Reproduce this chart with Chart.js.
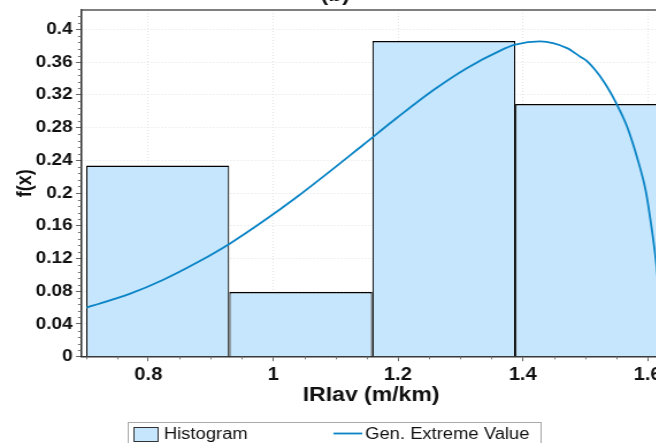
<!DOCTYPE html>
<html>
<head>
<meta charset="utf-8">
<script src="https://cdn.jsdelivr.net/npm/chart.js@4.4.1/dist/chart.umd.min.js"></script>
<style>
  html, body { margin: 0; padding: 0; background: #fff; width: 656px; height: 443px; overflow: hidden; }
  #wrap { position: relative; width: 656px; height: 443px; overflow: hidden; }
  /* the source figure is a bit wider than the window and stretched sideways */
  #myChart { position: absolute; left: 0; top: -20px; transform: scaleX(1.15); transform-origin: 0 0; }
</style>
</head>
<body>
<div id="wrap"><canvas id="myChart" width="583" height="463"></canvas></div>
<script>
// histogram bins (IRIav, m/km) and densities
const binCenters = [0.8151, 1.0443, 1.2735, 1.5027];
const binValues = [0.2336, 0.0791, 0.3858, 0.3087];
const binWidth = 0.2292;

// fitted Gen. Extreme Value curve
const gevX = [0.701, 0.771, 0.824, 0.878, 0.931, 0.984, 1.038, 1.091, 1.145, 1.198, 1.257, 1.311, 1.364,
              1.388, 1.428, 1.471, 1.492, 1.503, 1.530, 1.549, 1.567, 1.583, 1.597, 1.607, 1.614, 1.622];
const gevY = [0.060, 0.077, 0.094, 0.115, 0.1384, 0.1654, 0.1951, 0.2264, 0.2593, 0.2916, 0.3258, 0.3528, 0.374,
              0.3812, 0.3852, 0.377, 0.3665, 0.361, 0.336, 0.311, 0.2815, 0.244, 0.203, 0.155, 0.114, 0.050];

// axis ticks
const xTicks = [0.8, 1.0, 1.2, 1.4, 1.6];
const yTicks = [0, 0.04, 0.08, 0.12, 0.16, 0.2, 0.24, 0.28, 0.32, 0.36, 0.4];
const xMinorStep = 0.05;
const yMinorStep = 0.008;

const fontFam = '"Liberation Sans", Arial, sans-serif';
const barFill = '#C5E6FC';
const lineColor = '#0A84C6';

const extras = {
    id: 'extras',
    afterDraw(chart) {
        const ctx = chart.ctx;
        const area = chart.chartArea;
        const xs = chart.scales.x;
        const ys = chart.scales.y;
        ctx.save();

        // top frame
        ctx.strokeStyle = '#555';
        ctx.lineWidth = 1.5;
        ctx.beginPath();
        ctx.moveTo(area.left, area.top);
        ctx.lineTo(area.right + 10, area.top);
        ctx.stroke();

        // minor tick marks
        ctx.strokeStyle = '#777';
        ctx.lineWidth = 1;
        ctx.beginPath();
        for (let i = 0; i * yMinorStep <= ys.max; i++) {
            if (i % 5 == 0) continue;
            const py = Math.round(ys.getPixelForValue(i * yMinorStep)) + 0.5;
            ctx.moveTo(area.left - 2.6, py);
            ctx.lineTo(area.left, py);
        }
        for (let i = 14; i * xMinorStep <= xs.max; i++) {
            if (i % 4 == 0) continue;
            const px = Math.round(xs.getPixelForValue(i * xMinorStep)) + 0.5;
            ctx.moveTo(px, area.bottom);
            ctx.lineTo(px, area.bottom + 2.6);
        }
        ctx.stroke();

        // title, mostly cut off by the top edge
        ctx.fillStyle = '#111';
        ctx.font = 'bold 20px ' + fontFam;
        ctx.textAlign = 'center';
        ctx.textBaseline = 'alphabetic';
        ctx.fillText('(b)', chart.width / 2, 21);

        // legend
        const ds = chart.data.datasets;
        ctx.strokeStyle = '#aaa';
        ctx.lineWidth = 1;
        ctx.strokeRect(111.5, 442.5, 359, 40);
        ctx.fillStyle = barFill;
        ctx.fillRect(116, 447, 21.5, 14);
        ctx.strokeStyle = '#333';
        ctx.strokeRect(116.5, 447.5, 21, 14);
        ctx.strokeStyle = lineColor;
        ctx.lineWidth = 1.8;
        ctx.beginPath();
        ctx.moveTo(290, 453.5);
        ctx.lineTo(315, 453.5);
        ctx.stroke();
        ctx.fillStyle = '#111';
        ctx.font = '16px ' + fontFam;
        ctx.textAlign = 'left';
        ctx.textBaseline = 'middle';
        ctx.fillText(ds[0].label, 142.5, 455);
        ctx.fillText(ds[1].label, 317.5, 455);

        ctx.restore();
    }
};

const data = {
    datasets: [{
        type: 'bar',
        label: 'Histogram',
        data: binCenters.map((x, i) => ({x: x, y: binValues[i]})),
        backgroundColor: barFill,
        borderColor: '#000',
        borderWidth: {top: 1.5, left: 1.2, right: 1.2, bottom: 0},
        borderSkipped: false,
        // bar width comes from the tick spacing (0.2), so stretch to one bin
        barPercentage: binWidth / 0.2,
        categoryPercentage: 1,
        order: 1
    }, {
        type: 'line',
        label: 'Gen. Extreme Value',
        data: gevX.map((x, i) => ({x: x, y: gevY[i]})),
        borderColor: lineColor,
        borderWidth: 1.8,
        pointRadius: 0,
        fill: false,
        cubicInterpolationMode: 'monotone',
        order: 0
    }]
};

const config = {
    type: 'bar',
    data: data,
    plugins: [extras],
    options: {
        responsive: false,
        animation: false,
        layout: { padding: { top: 30, right: 8, left: 0, bottom: 0 } },
        plugins: {
            legend: { display: false },
            tooltip: { enabled: false }
        },
        scales: {
            x: {
                type: 'linear',
                min: 0.692,
                max: 1.622,
                offset: false,
                afterBuildTicks: s => { s.ticks = xTicks.map(v => ({value: v})); },
                afterFit: s => { s.height = 86.3; },
                grid: {
                    offset: false,
                    color: '#e2e2e2',
                    tickColor: '#666',
                    tickLength: 4.5,
                    drawTicks: true
                },
                border: { color: '#333', width: 1.5, dash: [1, 2] },
                ticks: {
                    color: '#111',
                    font: { family: fontFam, size: 17.5, weight: 'bold' },
                    padding: 3,
                    maxRotation: 0,
                    callback: v => String(parseFloat(v.toFixed(2)))
                },
                title: {
                    display: true,
                    text: 'IRIav (m/km)',
                    color: '#111',
                    font: { family: fontFam, size: 20, weight: 'bold' },
                    padding: { top: 0, bottom: 36 }
                }
            },
            y: {
                min: 0,
                max: 0.4236,
                afterBuildTicks: s => { s.ticks = yTicks.map(v => ({value: v})); },
                afterFit: s => { s.width = 70.4; },
                grid: {
                    color: '#e2e2e2',
                    tickColor: '#666',
                    tickLength: 4.3,
                    drawTicks: true
                },
                border: { color: '#333', width: 1.5, dash: [1, 2] },
                ticks: {
                    color: '#111',
                    font: { family: fontFam, size: 16.5, weight: 'bold' },
                    padding: 3,
                    callback: v => String(parseFloat(v.toFixed(2)))
                },
                title: {
                    display: true,
                    text: 'f(x)',
                    color: '#111',
                    font: { family: fontFam, size: 18, weight: 'bold' },
                    padding: { top: 11, bottom: 0 }
                }
            }
        }
    }
};

const myChart = new Chart(document.getElementById('myChart'), config);
</script>
</body>
</html>
